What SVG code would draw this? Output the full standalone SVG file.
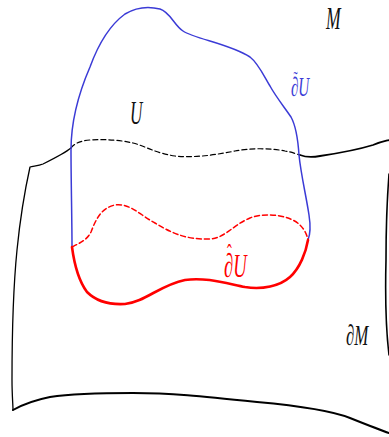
<svg xmlns="http://www.w3.org/2000/svg" width="389" height="437" viewBox="0 0 389 437">
<style>
  .ln{fill:none;stroke-linecap:round;stroke-linejoin:round}
  .blk{stroke:#000}
  .blue{stroke:#3b3bd6;stroke-width:1.5}
  .red{stroke:#f00}
  .lbl{font-family:"Liberation Serif","DejaVu Serif",serif;font-style:italic}
  .acc{font-style:normal}
</style>
<rect width="389" height="437" fill="#fff"/>
<g id="manifold">
  <path class="ln blk" stroke-width="1.3" d="M71,148 C65,153 55,158 43,164 C38,166 33,166 30,167 C26,185 21,210 17,250 C13,290 12,350 12,380 C12,395 13,405 13,410"/>
  <path class="ln blk" stroke-width="2" d="M13,410 C20,406 35,400 50,397 C70,394 90,393 133,393 C170,393 200,396 257,402 C290,405 330,410 350,418 C365,424 380,430 389,433"/>
  <path class="ln blk" stroke-width="1.8" d="M300,155 C305,157 310,158 320,156 C340,153 360,149 373,145 C380,142 385,141 389,140"/>
  <path class="ln blk" stroke-width="1.6" d="M389,174 C387,200 386,230 386,260 C385,300 386,330 389,355"/>
  <path class="ln blk" stroke-width="1.2" stroke-dasharray="5,3" d="M71,148 C75,143 80,141 90,140 C105,139 120,140 133,143 C145,146 155,153 175,156 C195,158 215,155 235,151 C250,148 270,148 285,151 C292,152 296,154 300,155"/>
</g>
<g id="U-boundary-tilde">
  <path class="ln blue" d="M72,247 C72,220 71,180 71,150 C71,120 80,90 90,67 C98,45 110,25 125,14 C135,8 148,6 160,9 C170,12 174,25 183,31 C195,39 230,44 250,57 C258,63 264,76 270,86 C276,97 285,108 291,117 C296,126 298,140 299,155 C301,175 306,195 309,215 C311,228 310,235 308,240"/>
</g>
<g id="U-boundary-hat">
  <path class="ln red" stroke-width="1.5" stroke-dasharray="5,3" d="M72,247 C80,243 87,240 91,232 C95,222 100,208 115,205 C130,203 140,215 155,223 C170,232 185,240 210,239 C225,238 233,225 250,218 C265,212 290,215 300,225 C305,230 307,235 308,240"/>
  <path class="ln red" stroke-width="2.6" d="M72,247 C74,262 78,280 87,292 C95,300 108,305 125,304 C145,302 160,285 185,280 C205,277 225,283 245,287 C262,290 280,286 290,277 C300,268 306,252 308,240"/>
</g>
<g id="labels">
  <text class="lbl" font-size="32" fill="#111" transform="translate(326,29) scale(0.55,1)">M</text>
  <text class="lbl" font-size="33" fill="#111" transform="translate(130,124) scale(0.52,1)">U</text>
  <text id="label-dtildeU" class="lbl" font-size="27" fill="#3b3bd6" transform="translate(291,96) scale(0.56,1)">∂<tspan class="acc" font-size="22" dx="-9" dy="-10">˜</tspan><tspan dx="1.5" dy="10">U</tspan></text>
  <text id="label-dhatU" class="lbl" font-size="34" fill="#f00" transform="translate(224,277) scale(0.55,1)">∂<tspan class="acc" font-size="26" dx="-11.5" dy="-15">ˆ</tspan><tspan dx="2.8" dy="15">U</tspan></text>
  <text class="lbl" font-size="29" fill="#111" transform="translate(346,345) scale(0.58,1)">∂M</text>
</g>
</svg>
